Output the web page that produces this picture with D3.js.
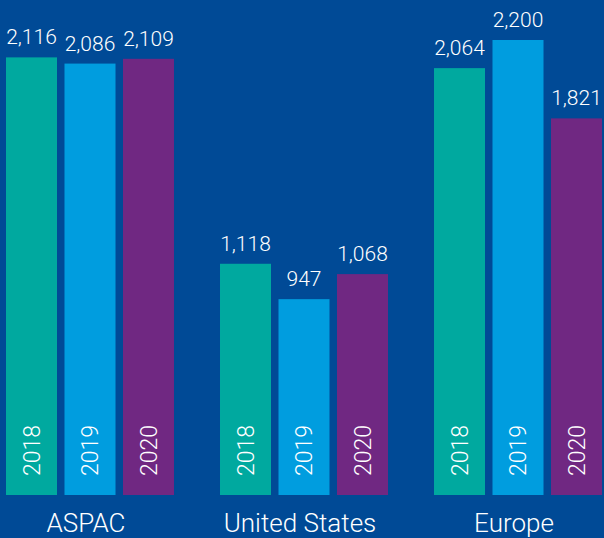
<!DOCTYPE html>
<html>
<head>
<meta charset="utf-8">
<script src="https://cdn.jsdelivr.net/npm/d3@7"></script>
<style>
  body { margin: 0; background: #004a96; }
  svg text { font-family: Roboto, "Liberation Sans", sans-serif; font-weight: 300; fill: #fff; }
</style>
</head>
<body>
<div id="plot"></div>
<script>
// ############ DATA ###############

const regions = ["ASPAC", "United States", "Europe"];
const years = ["2018", "2019", "2020"];
const aspac = [2116, 2086, 2109];
const us = [1118, 947, 1068];
const europe = [2064, 2200, 1821];

const series = [aspac, us, europe];
const colors = ["#00a99f", "#009ddf", "#702882"];

// ############ SETUP ###############

const w = 604, h = 538;
const margin = {top: 40, right: 2, bottom: 43, left: 6};
const innerHeight = h - margin.top - margin.bottom;

const svg = d3.select("div#plot")
  .append("svg")
  .attr("width", w)
  .attr("height", h);

svg.append("rect")
  .attr("width", w)
  .attr("height", h)
  .attr("fill", "#004a96");

const xGroup = d3.scaleBand()
  .domain(regions)
  .range([margin.left, w - margin.right])
  .paddingInner(0.215);

const xYear = d3.scaleBand()
  .domain(years)
  .range([0, xGroup.bandwidth()])
  .paddingInner(0.128);

const yScale = d3.scaleLinear()
  .domain([0, 2200])
  .range([margin.top + innerHeight, margin.top]);

const colorScale = d3.scaleOrdinal()
  .domain(years)
  .range(colors);

const data = regions.map((r, i) => ({
  region: r,
  values: years.map((y, j) => ({region: r, year: y, value: series[i][j]}))
}));

const groups = svg.append("g")
  .attr("id", "bars")
  .selectAll("g")
  .data(data)
  .enter()
  .append("g")
    .attr("transform", d => `translate(${xGroup(d.region)}, 0)`);

// bars
groups.selectAll("rect")
  .data(d => d.values)
  .enter()
  .append("rect")
    .attr("x", d => xYear(d.year))
    .attr("y", d => yScale(d.value))
    .attr("width", xYear.bandwidth())
    .attr("height", d => yScale(0) - yScale(d.value))
    .attr("fill", d => colorScale(d.year));

// value labels
groups.selectAll("text.value")
  .data(d => d.values)
  .enter()
  .append("text")
    .attr("class", "value")
    .attr("x", d => xYear(d.year) + xYear.bandwidth() / 2)
    .attr("y", d => yScale(d.value) - 13)
    .attr("text-anchor", "middle")
    .style("font-size", "21px")
    .text(d => d3.format(",")(d.value));

// year labels inside bars
groups.selectAll("text.year")
  .data(d => d.values)
  .enter()
  .append("text")
    .attr("class", "year")
    .attr("transform", d => `translate(${xYear(d.year) + xYear.bandwidth() / 2}, ${yScale(0) - 19}) rotate(-90)`)
    .attr("dy", "0.36em")
    .attr("text-anchor", "start")
    .style("font-size", "23px")
    .text(d => d.year);

// region labels
groups.append("text")
  .attr("class", "region")
  .attr("x", xGroup.bandwidth() / 2 - 4)
  .attr("y", h - 6)
  .attr("text-anchor", "middle")
  .style("font-size", "26px")
  .text(d => d.region);
</script>
</body>
</html>
